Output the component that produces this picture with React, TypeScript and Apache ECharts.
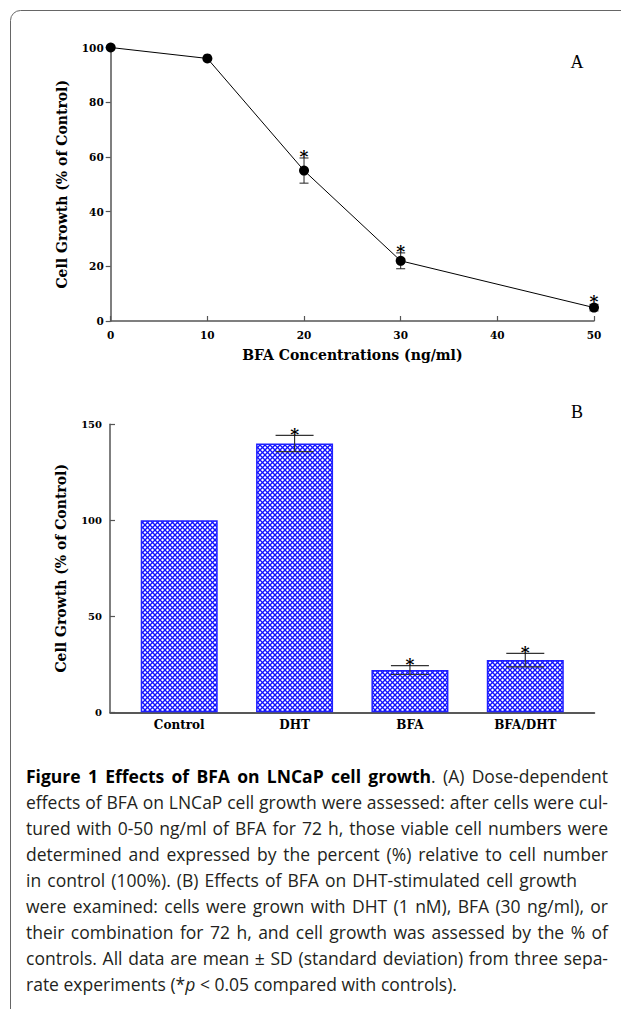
import React, { useEffect, useRef } from 'react';
import * as echarts from 'echarts';

// ---- Panel A data ----
const concentrations = [0, 10, 20, 30, 50];
const growthA = [100, 96, 55, 22, 4.9];
const sdA = [0, 0, 4.6, 2.9, 1.2];
const sigA = [0, 0, 1, 1, 1];

// ---- Panel B data ----
const categoriesB = ['Control', 'DHT', 'BFA', 'BFA/DHT'];
const growthB = [100, 140, 22, 27.2];
const sdB = [0, 4.2, 2.3, 3.5];
const sigB = [0, 1, 1, 1];

// caption: each line is a list of [text, style] runs (b = bold, n = normal, i = italic)
const captionLines: [string, string][][] = [
  [['Figure 1 Effects of BFA on LNCaP cell growth', 'b'], ['. (A) Dose-dependent', 'n']],
  [['effects of BFA on LNCaP cell growth were assessed: after cells were cul-', 'n']],
  [['tured with 0-50 ng/ml of BFA for 72 h, those viable cell numbers were', 'n']],
  [['determined and expressed by the percent (%) relative to cell number', 'n']],
  [['in control (100%). (B) Effects of BFA on DHT-stimulated cell growth', 'n']],
  [['were examined: cells were grown with DHT (1 nM), BFA (30 ng/ml), or', 'n']],
  [['their combination for 72 h, and cell growth was assessed by the % of', 'n']],
  [['controls. All data are mean \u00b1 SD (standard deviation) from three sepa-', 'n']],
  [['rate experiments (*', 'n'], ['p', 'i'], [' < 0.05 compared with controls).', 'n']],
];
const captionRightEdges = [608, 608, 608, 608, 577, 608, 608, 608, 0];

const SERIF = 'DejaVu Serif';
const AXIS_COLOR = '#555';
const CAP_FS = 17.5;
const CAP_FAMILY = '"Open Sans"';

function makePattern() {
  const s = 5;
  const c = document.createElement('canvas');
  c.width = s;
  c.height = s;
  const ctx = c.getContext('2d')!;
  ctx.fillStyle = '#ffffff';
  ctx.fillRect(0, 0, s, s);
  ctx.strokeStyle = '#1010ff';
  ctx.lineWidth = 1.3;
  for (const o of [-s, 0, s]) {
    ctx.beginPath();
    ctx.moveTo(o, 0);
    ctx.lineTo(o + s, s);
    ctx.stroke();
    ctx.beginPath();
    ctx.moveTo(o + s, 0);
    ctx.lineTo(o, s);
    ctx.stroke();
  }
  return c;
}

function fontFor(st: string) {
  if (st === 'b') return `bold ${CAP_FS}px ${CAP_FAMILY}`;
  if (st === 'i') return `italic ${CAP_FS}px ${CAP_FAMILY}`;
  return `${CAP_FS}px ${CAP_FAMILY}`;
}

function buildCaption(left: number, firstCenter: number, lineGap: number) {
  const mctx = document.createElement('canvas').getContext('2d')!;
  const measure = (t: string, st: string) => {
    mctx.font = fontFor(st);
    return mctx.measureText(t).width;
  };
  const spaceW = measure(' ', 'n');
  const rich = {
    b: { fontFamily: 'Open Sans', fontWeight: 'bold', fontSize: CAP_FS, fill: '#000' },
    n: { fontFamily: 'Open Sans', fontSize: CAP_FS, fill: '#231f20' },
    i: { fontFamily: 'Open Sans', fontStyle: 'italic', fontSize: CAP_FS, fill: '#231f20' },
  };
  const els: any[] = [];
  captionLines.forEach((runs, li) => {
    const words: [string, string][][] = [];
    let cur: [string, string][] = [];
    runs.forEach(([t, st]) => {
      t.split(' ').forEach((part, idx) => {
        if (idx > 0) {
          if (cur.length) words.push(cur);
          cur = [];
        }
        if (part) cur.push([part, st]);
      });
    });
    if (cur.length) words.push(cur);
    const widths = words.map((w) => w.reduce((a, [t, st]) => a + measure(t, st), 0));
    const total = widths.reduce((a, b) => a + b, 0);
    const right = captionRightEdges[li];
    let gap = spaceW;
    if (right > 0 && words.length > 1) {
      const g = (right - left - total) / (words.length - 1);
      if (g > spaceW * 0.6) gap = g;
    }
    let x = left;
    const y = firstCenter + li * lineGap;
    words.forEach((w, wi) => {
      els.push({
        type: 'text',
        x,
        y,
        silent: true,
        style: {
          text: w.map(([t, st]) => `{${st}|${t}}`).join(''),
          rich,
          verticalAlign: 'middle',
          align: 'left',
        },
      });
      x += widths[wi] + gap;
    });
  });
  return els;
}

export default function App() {
  const ref = useRef<HTMLDivElement>(null);
  useEffect(() => {
    document.body.style.margin = '0';
    const chart = echarts.init(ref.current!, null, { renderer: 'svg' });
    const pattern = makePattern();

    const axisLabelStyle = { fontFamily: SERIF, fontWeight: 'bold' as const, fontSize: 10.5, color: '#000' };
    const nameStyle = { fontFamily: SERIF, fontWeight: 'bold' as const, fontSize: 14, color: '#000' };
    const starFont = `bold 17px "${SERIF}"`;

    const caption = buildCaption(26, 776, 26);

    chart.setOption({
      animation: false,
      backgroundColor: '#fff',
      grid: [
        { left: 110.7, top: 47.5, width: 483.3, height: 273.5 },
        { left: 110, top: 424.3, width: 484.5, height: 288 },
      ],
      xAxis: [
        {
          type: 'value', gridIndex: 0, min: 0, max: 50, interval: 10,
          name: 'BFA Concentrations (ng/ml)', nameLocation: 'middle', nameGap: 27,
          nameTextStyle: nameStyle,
          axisLine: { show: true, lineStyle: { color: AXIS_COLOR, width: 1.5 } },
          axisTick: { show: true, inside: true, length: 5, lineStyle: { color: AXIS_COLOR, width: 1.2 } },
          axisLabel: { ...axisLabelStyle, margin: 8 },
          splitLine: { show: false },
        },
        {
          type: 'value', gridIndex: 1, min: 0.4, max: 4.6, interval: 0.2,
          axisLine: { show: true, onZero: false, lineStyle: { color: '#222', width: 1.5 } },
          axisTick: { show: false },
          axisLabel: {
            ...axisLabelStyle, fontSize: 12, margin: 7,
            formatter: (v: number) => {
              const r = Math.round(v * 10) / 10;
              return Number.isInteger(r) && r >= 1 && r <= categoriesB.length ? categoriesB[r - 1] : '';
            },
          },
          splitLine: { show: false },
        },
      ],
      yAxis: [
        {
          type: 'value', gridIndex: 0, min: 0, max: 100, interval: 20,
          name: 'Cell Growth (% of Control)', nameLocation: 'middle', nameGap: 42,
          nameTextStyle: nameStyle,
          axisLine: { show: true, lineStyle: { color: AXIS_COLOR, width: 1.5 } },
          axisTick: { show: true, inside: false, length: 5, lineStyle: { color: AXIS_COLOR, width: 1.2 } },
          axisLabel: { ...axisLabelStyle, margin: 7 },
          splitLine: { show: false },
        },
        {
          type: 'value', gridIndex: 1, min: 0, max: 150, interval: 50,
          name: 'Cell Growth (% of Control)', nameLocation: 'middle', nameGap: 42,
          nameTextStyle: nameStyle,
          axisLine: { show: true, lineStyle: { color: AXIS_COLOR, width: 1.5 } },
          axisTick: { show: true, inside: true, length: 5, lineStyle: { color: AXIS_COLOR, width: 1.2 } },
          axisLabel: { ...axisLabelStyle, fontSize: 10, margin: 8 },
          splitLine: { show: false },
        },
      ],
      series: [
        {
          type: 'custom', xAxisIndex: 0, yAxisIndex: 0, z: 1,
          data: concentrations.map((c, i) => [c, growthA[i], sdA[i], sigA[i]]),
          renderItem: (params: any, api: any) => {
            const x = api.value(0), y = api.value(1), e = api.value(2), s = api.value(3);
            const p = api.coord([x, y]);
            const top = api.coord([x, y + e]);
            const bot = api.coord([x, y - e]);
            const children: any[] = [];
            const st = { stroke: '#222', lineWidth: 1 };
            if (e > 0) {
              children.push({ type: 'line', shape: { x1: p[0], y1: top[1], x2: p[0], y2: bot[1] }, style: st });
              children.push({ type: 'line', shape: { x1: p[0] - 4.5, y1: top[1], x2: p[0] + 4.5, y2: top[1] }, style: st });
              children.push({ type: 'line', shape: { x1: p[0] - 4.5, y1: bot[1], x2: p[0] + 4.5, y2: bot[1] }, style: st });
            }
            if (s) {
              const ay = Math.min(top[1], p[1] - 5) - 1.5;
              children.push({ type: 'text', style: { text: '*', x: p[0], y: ay, align: 'center', verticalAlign: 'middle', font: starFont, fill: '#000' } });
            }
            return { type: 'group', children };
          },
        },
        {
          type: 'line', xAxisIndex: 0, yAxisIndex: 0, z: 3,
          data: concentrations.map((c, i) => [c, growthA[i]]),
          symbol: 'circle', symbolSize: 10,
          itemStyle: { color: '#000' },
          lineStyle: { color: '#000', width: 1 },
        },
        {
          type: 'bar', xAxisIndex: 1, yAxisIndex: 1, z: 2,
          data: categoriesB.map((_, i) => [i + 1, growthB[i]]),
          barWidth: 77,
          itemStyle: {
            color: { image: pattern, repeat: 'repeat' },
            borderColor: '#2020ff', borderWidth: 1.5,
          },
        },
        {
          type: 'custom', xAxisIndex: 1, yAxisIndex: 1, z: 4,
          data: categoriesB.map((_, i) => [i + 1, growthB[i], sdB[i], sigB[i]]),
          renderItem: (params: any, api: any) => {
            const x = api.value(0), y = api.value(1), e = api.value(2), s = api.value(3);
            const top = api.coord([x, y + e]);
            const bot = api.coord([x, y - e]);
            const children: any[] = [];
            const st = { stroke: '#333', lineWidth: 1.2 };
            if (e > 0) {
              children.push({ type: 'line', shape: { x1: top[0], y1: top[1], x2: top[0], y2: bot[1] }, style: st });
              children.push({ type: 'line', shape: { x1: top[0] - 19, y1: top[1], x2: top[0] + 19, y2: top[1] }, style: st });
              children.push({ type: 'line', shape: { x1: top[0] - 19, y1: bot[1], x2: top[0] + 19, y2: bot[1] }, style: st });
            }
            if (s) {
              children.push({ type: 'text', style: { text: '*', x: top[0], y: top[1] - 1.5, align: 'center', verticalAlign: 'middle', font: starFont, fill: '#000' } });
            }
            return { type: 'group', children };
          },
        },
      ],
      graphic: [
        {
          type: 'rect', silent: true,
          shape: { x: 10.5, y: 10.5, width: 700, height: 1100, r: 10 },
          style: { fill: 'none', stroke: '#666', lineWidth: 1 },
        },
        { type: 'text', x: 577, y: 62, style: { text: 'A', font: '18px "Liberation Serif"', fill: '#000', align: 'center', verticalAlign: 'middle' } },
        { type: 'text', x: 577, y: 412, style: { text: 'B', font: '18px "Liberation Serif"', fill: '#000', align: 'center', verticalAlign: 'middle' } },
        ...caption,
      ],
    });
    return () => chart.dispose();
  }, []);
  return <div ref={ref} style={{ width: 621, height: 1009 }} />;
}
